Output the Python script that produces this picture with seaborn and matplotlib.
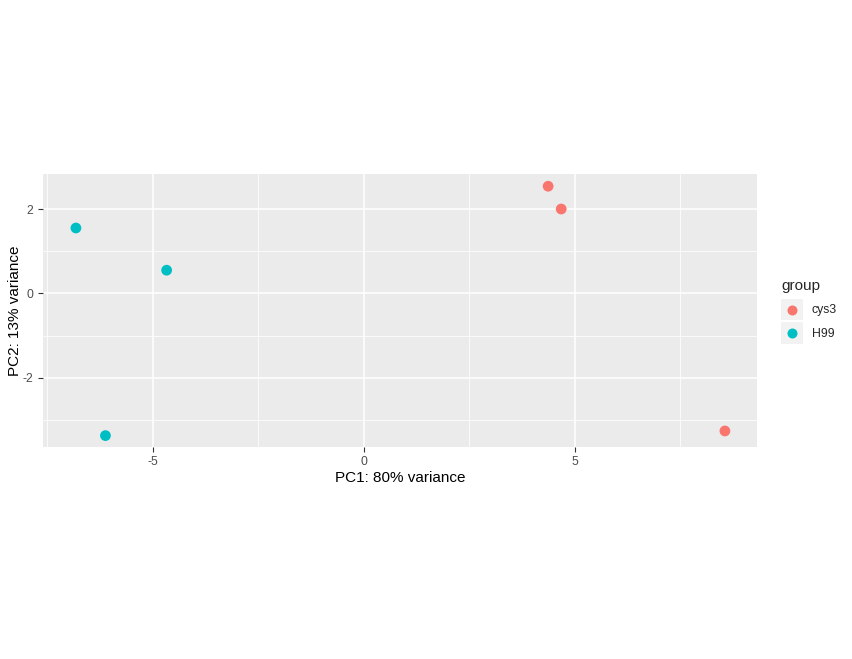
import matplotlib
matplotlib.use("Agg")
import matplotlib.pyplot as plt
import seaborn as sns
import pandas as pd
from matplotlib.patches import Rectangle
from matplotlib.lines import Line2D
from matplotlib.legend_handler import HandlerBase

groups = ["cys3", "cys3", "cys3", "H99", "H99", "H99"]
pc1 = [4.37, 4.68, 8.56, -6.82, -4.67, -6.12]
pc2 = [2.54, 2.00, -3.26, 1.55, 0.55, -3.37]
group_order = ["cys3", "H99"]
group_colors = ["#F8766D", "#00BFC4"]
x_ticks = [-5, 0, 5]
y_ticks = [-2, 0, 2]
x_title = "PC1: 80% variance"
y_title = "PC2: 13% variance"

df = pd.DataFrame({"PC1": pc1, "PC2": pc2, "group": groups})

sns.set_theme(style="white")
plt.rcParams["font.family"] = ["Liberation Sans", "DejaVu Sans"]

W, H = 852, 659
fig = plt.figure(figsize=(W / 100, H / 100), dpi=100)
fig.patch.set_facecolor("white")
left, right, top, bottom = 43, 757, 174, 447
ax = fig.add_axes([left / W, (H - bottom) / H, (right - left) / W, (bottom - top) / H])
ax.set_facecolor("#EBEBEB")

palette = dict(zip(group_order, group_colors))
sns.scatterplot(data=df, x="PC1", y="PC2", hue="group", hue_order=group_order,
                palette=palette, s=60, linewidth=0, ax=ax, legend=False, zorder=3)

ax.set_xlim(-7.60, 9.32)
ax.set_ylim(-3.64, 2.83)
ax.set_xticks(x_ticks)
ax.set_yticks(y_ticks)
ax.set_xticks([-7.5, -2.5, 2.5, 7.5], minor=True)
ax.set_yticks([-3, -1, 1], minor=True)
ax.set_xticklabels([str(v) for v in x_ticks])
ax.set_yticklabels([str(v) for v in y_ticks])
ax.grid(True, which="major", color="white", linewidth=1.1, zorder=0)
ax.grid(True, which="minor", color="white", linewidth=0.55, zorder=0)
ax.set_axisbelow(True)
for sp in ax.spines.values():
    sp.set_visible(False)
ax.tick_params(axis="both", which="major", length=3.8, width=0.8, color="#333333",
               labelcolor="#4D4D4D", labelsize=8.8, pad=3, bottom=True, left=True)
ax.tick_params(axis="both", which="minor", length=0)
ax.set_xlabel(x_title, fontsize=11, color="black")
ax.set_ylabel(y_title, fontsize=11, color="black")
ax.xaxis.label.set_va("center")
ax.xaxis.label.set_ha("center")
ax.yaxis.label.set_va("center")
ax.yaxis.label.set_ha("center")
ax.xaxis.set_label_coords(0.5, (bottom - 478) / (bottom - top))
ax.yaxis.set_label_coords((15.5 - left) / (right - left), 0.5)


class KeyHandler(HandlerBase):
    def create_artists(self, legend, orig_handle, xdescent, ydescent, width, height,
                       fontsize, trans):
        rect = Rectangle((-xdescent, -ydescent), width, height, facecolor="#F2F2F2",
                         edgecolor="none", transform=trans)
        cx = -xdescent + width / 2
        cy = -ydescent + height / 2
        mk = Line2D([cx], [cy], marker="o", linestyle="none", markersize=7.2,
                    markerfacecolor=orig_handle.get_markerfacecolor(),
                    markeredgewidth=0, transform=trans)
        return [rect, mk]


handles = [Line2D([], [], marker="o", linestyle="none", markerfacecolor=c)
           for c in group_colors]
leg = fig.legend(handles, group_order, handler_map={Line2D: KeyHandler()},
                 title="group", loc="upper left", bbox_to_anchor=(781 / W, 1 - 279 / H),
                 frameon=False, fontsize=8.8, title_fontsize=11,
                 handlelength=1.8, handleheight=2.385, handletextpad=0.72,
                 labelspacing=0.16, borderpad=0, borderaxespad=0)
leg._legend_box.align = "left"
leg._legend_box.sep = 4

fig.savefig("out.png", dpi=100, facecolor="white")
